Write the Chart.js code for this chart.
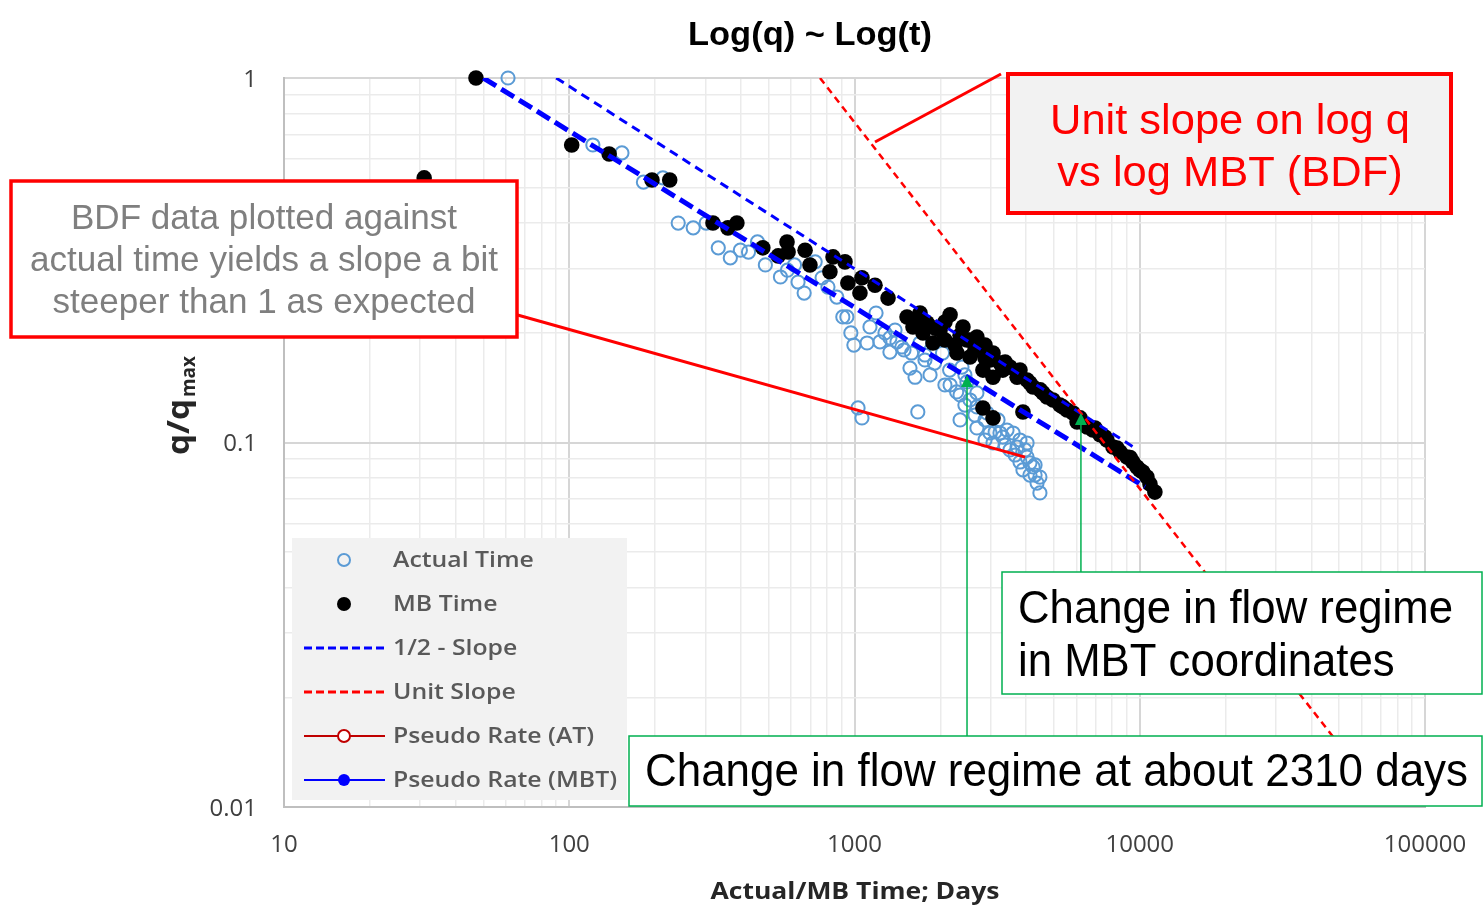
<!DOCTYPE html>
<html><head><meta charset="utf-8">
<script src="https://cdn.jsdelivr.net/npm/chart.js@4.4.1/dist/chart.umd.min.js"></script>
<style>html,body{margin:0;padding:0;background:#fff}#wrap{width:1484px;height:923px}</style>
</head><body><div id="wrap"><canvas id="c" width="1484" height="923"></canvas></div>
<script>
const chartTitle = 'Log(q) ~ Log(t)';
const xAxisTitle = 'Actual/MB Time; Days';
const yAxisTitleMain = 'q/q';
const yAxisTitleSub = 'max';
const xTickLabels = ['10', '100', '1000', '10000', '100000'];
const yTickLabels = ['0.01', '0.1', '1'];
const seriesLabels = ['Actual Time', 'MB Time', '1/2 - Slope', 'Unit Slope', 'Pseudo Rate (AT)', 'Pseudo Rate (MBT)'];

// Actual time (open blue circles)
const actualTimeX = [61, 121, 153, 182, 213, 241, 272, 302, 333, 367, 398, 425, 457, 487, 550, 582, 616, 634, 666, 728,
  770, 807, 867, 910, 940, 971, 995, 1107, 1133, 1190, 1228, 1279, 1331, 1409, 1466, 1565, 1630, 1585, 1697, 1908,
  2035, 2155, 2281, 2381, 2478, 2540, 2686, 2686, 2686, 2914, 2985, 3185, 3236, 3425, 3597, 3715, 3803, 4027, 4227, 4467,
  4365, 4467, 4027, 4121, 1029, 1062, 1667, 3311, 3508, 3895, 4295, 3059, 2868, 2438, 2075, 2345, 1840, 1766, 1387,
  3372, 3655, 3963, 4121, 4295, 3803, 3112, 2868, 2644, 2345, 2163, 2438, 1331, 1491, 1766];
const actualTimeY = [1.0, 0.655, 0.623, 0.518, 0.532, 0.400, 0.388, 0.400, 0.342, 0.321, 0.337, 0.333, 0.355, 0.307, 0.2845, 0.297, 0.307, 0.2756, 0.257, 0.313,
  0.283, 0.267, 0.2506, 0.221, 0.221, 0.1998, 0.185, 0.1875, 0.2075, 0.2266, 0.1888, 0.1998, 0.177, 0.1888, 0.1828, 0.160, 0.151, 0.176, 0.1875, 0.1652,
  0.176, 0.158, 0.1376, 0.161, 0.1466, 0.1308, 0.1368, 0.1252, 0.1096, 0.1205, 0.1062, 0.1153, 0.1062, 0.1082, 0.1062, 0.0972, 0.1016, 0.0912, 0.0857, 0.0804,
  0.0774, 0.0727, 0.0997, 0.0879, 0.1244, 0.1168, 0.1213, 0.1035, 0.0954, 0.0841, 0.0814, 0.0997, 0.1153, 0.1267, 0.1438, 0.1153, 0.1532, 0.1684, 0.2035,
  0.0984, 0.0924, 0.0954, 0.0814, 0.0868, 0.0884, 0.1069, 0.1016, 0.1189, 0.135, 0.1438, 0.1532, 0.1936, 0.1794, 0.1738];

// Material balance time (filled black circles)
const mbTimeX = [47.1, 31.0, 102, 138, 195, 225, 319, 360, 387, 477, 540, 580, 585, 671, 698, 841, 820, 926, 948, 1062,
  1045, 1180, 1311, 1528, 1697, 1795, 2163, 1738, 1884, 2400, 2478, 2686, 2753, 3059, 3236, 3508, 3803, 4027, 4227, 4581,
  4966, 5383, 5835, 2820, 3059, 2820, 3059, 3895, 6030, 6535, 7258, 8058, 9020, 9777, 10600, 11300, 2286, 2540, 3311, 3715,
  4732, 5250, 6850, 7674, 8534, 9456, 10250, 10860, 1995, 1603, 2075, 2250, 2868, 2985, 2345,
  1630, 1914, 2075, 2540, 2644, 3373, 4480, 5560, 6180, 6970, 7550, 8318, 9250, 10000, 2868, 4121];
const mbTimeY = [1.0, 0.532, 0.655, 0.619, 0.525, 0.525, 0.400, 0.388, 0.400, 0.342, 0.325, 0.355, 0.333, 0.337, 0.307, 0.323, 0.294, 0.313, 0.274, 0.283,
  0.257, 0.270, 0.249, 0.221, 0.2266, 0.213, 0.224, 0.1998, 0.1875, 0.2075, 0.191, 0.1948, 0.1794, 0.176, 0.1652, 0.161, 0.158, 0.1484, 0.142, 0.1368,
  0.1308, 0.1252, 0.1205, 0.158, 0.151, 0.1244, 0.1168, 0.1213, 0.1138, 0.1103, 0.105, 0.0972, 0.0912, 0.0857, 0.0804, 0.0731, 0.176, 0.1716, 0.158, 0.151,
  0.1333, 0.1267, 0.1082, 0.1016, 0.0942, 0.0884, 0.083, 0.0769, 0.2035, 0.2075, 0.191, 0.185, 0.185, 0.1684, 0.197,
  0.213, 0.206, 0.214, 0.191, 0.1794, 0.1663, 0.1394, 0.1228, 0.1168, 0.1096, 0.1035, 0.0966, 0.0909, 0.0841, 0.1706, 0.1456];

const halfSlopeUpperX = [90, 9620];
const halfSlopeUpperY = [1.0, 0.0966];
const halfSlopeLowerX = [50, 10430];
const halfSlopeLowerY = [1.0, 0.0755];
const unitSlopeX = [757, 74000];
const unitSlopeY = [1.0, 0.01];
const pseudoRateATX = [];
const pseudoRateATY = [];
const pseudoRateMBTX = [];
const pseudoRateMBTY = [];

// annotations
const noteLeftLines = ['BDF data plotted against', 'actual time yields a slope a bit', 'steeper than 1 as expected'];
const noteRightLines = ['Unit slope on log q', 'vs log MBT (BDF)'];
const noteMBTLines = ['Change in flow regime', 'in MBT coordinates'];
const noteActualLine = 'Change in flow regime at about 2310 days';
const leftPointerTarget = [3963, 0.0912];
const rightPointerTarget = [1180, 0.6675];
const arrowActual = [2480, 0.1532];
const arrowMBT = [6220, 0.1205];

const pts = (xs, ys) => xs.map((x, i) => ({x: x, y: ys[i]}));

function gridValues(e0, e1) {
  const v = [];
  for (let e = e0; e < e1; e++) for (let m = 1; m < 10; m++) v.push(+(m * Math.pow(10, e)).toPrecision(6));
  v.push(+Math.pow(10, e1).toPrecision(6));
  return v;
}
function findLabel(labels, value) {
  const l = labels.find(s => Math.abs(Number(s) - value) < Math.abs(value) * 1e-6);
  return l === undefined ? '' : l;
}

function fitText(ctx, text, x, y, font, scale, align) {
  ctx.save();
  ctx.font = font;
  ctx.textAlign = align || 'left';
  ctx.translate(x, y);
  ctx.scale(scale, 1);
  ctx.fillText(text, 0, 0);
  ctx.restore();
}
function scaleFor(ctx, text, font, target) {
  ctx.save(); ctx.font = font; const w = ctx.measureText(text).width; ctx.restore();
  return target / w;
}

const bgPlugin = {
  id: 'bg',
  beforeDraw(chart) {
    const c = chart.ctx; c.save(); c.fillStyle = '#fff'; c.fillRect(0, 0, chart.width, chart.height); c.restore();
  }
};

const decorPlugin = {
  id: 'decor',
  afterDraw(chart) {
    const c = chart.ctx;
    const xs = chart.scales.x, ys = chart.scales.y;
    const px = v => xs.getPixelForValue(v), py = v => ys.getPixelForValue(v);
    c.save();
    c.textBaseline = 'middle';

    // chart title
    c.fillStyle = '#000';
    let f = 'bold 33px "Liberation Sans", Arial, sans-serif';
    fitText(c, chartTitle, 810, 36, f, scaleFor(c, chartTitle, f, 244), 'center');

    // x axis title
    c.fillStyle = '#262626';
    f = 'bold 24px "Open Sans", sans-serif';
    fitText(c, xAxisTitle, 855, 892, f, scaleFor(c, xAxisTitle, f, 289), 'center');

    // y axis title with subscript
    c.save();
    c.translate(189, 455);
    c.rotate(-Math.PI / 2);
    c.textBaseline = 'alphabetic';
    f = 'bold 30px "Open Sans", sans-serif';
    fitText(c, yAxisTitleMain, 0, 0, f, scaleFor(c, yAxisTitleMain, f, 56), 'left');
    const fs = 'bold 20px "Open Sans", sans-serif';
    fitText(c, yAxisTitleSub, 58, 6, fs, scaleFor(c, yAxisTitleSub, fs, 41), 'left');
    c.restore();

    // legend
    c.fillStyle = '#f2f2f2';
    c.fillRect(292, 538, 335, 262);
    const lf = '600 22px "Open Sans", sans-serif';
    const ls = scaleFor(c, 'Pseudo Rate (MBT)', lf, 224);
    const legendSets = chart.data.datasets.filter(d => d.inLegend);
    legendSets.forEach((d, i) => {
      const y = 560 + i * 44;
      c.save();
      if (d.legendKind === 'line' || d.legendKind === 'lineMarker') {
        c.strokeStyle = d.borderColor;
        c.lineWidth = d.legendKind === 'line' ? 3 : 2;
        c.setLineDash(d.legendKind === 'line' ? [8, 4] : []);
        c.beginPath(); c.moveTo(304, y); c.lineTo(385, y); c.stroke();
        c.setLineDash([]);
      }
      if (d.legendKind === 'marker' || d.legendKind === 'lineMarker') {
        c.beginPath(); c.arc(344, y, d.legendRadius, 0, Math.PI * 2);
        if (d.legendFill) { c.fillStyle = d.legendFill; c.fill(); }
        if (d.legendStroke) { c.strokeStyle = d.legendStroke; c.lineWidth = 2; c.stroke(); }
      }
      c.restore();
      c.fillStyle = '#595959';
      fitText(c, d.label, 393, y + 1, lf, ls, 'left');
    });

    // left note + pointer
    c.strokeStyle = '#ff0000';
    c.lineWidth = 3;
    c.beginPath(); c.moveTo(514, 314); c.lineTo(px(leftPointerTarget[0]), py(leftPointerTarget[1])); c.stroke();
    c.fillStyle = '#fff';
    c.fillRect(11, 181, 506, 156);
    c.lineWidth = 3.5;
    c.strokeRect(11, 181, 506, 156);
    c.fillStyle = '#7f7f7f';
    f = '35px "Liberation Sans", Arial, sans-serif';
    let s = scaleFor(c, noteLeftLines[1], f, 468);
    noteLeftLines.forEach((t, i) => fitText(c, t, 264, 219 + i * 42, f, s, 'center'));

    // right note + pointer
    c.lineWidth = 3;
    c.beginPath(); c.moveTo(1001, 74); c.lineTo(px(rightPointerTarget[0]), py(rightPointerTarget[1])); c.stroke();
    c.fillStyle = '#f2f2f2';
    c.fillRect(1008, 74, 443, 139);
    c.lineWidth = 4;
    c.strokeRect(1008, 74, 443, 139);
    c.fillStyle = '#ff0000';
    f = '43px "Liberation Sans", Arial, sans-serif';
    s = scaleFor(c, noteRightLines[0], f, 360);
    noteRightLines.forEach((t, i) => fitText(c, t, 1230, 122 + i * 52, f, s, 'center'));

    // green arrows
    const green = '#00b050';
    function arrow(xv, yv, yStart) {
      const x = px(xv), y = py(yv);
      c.strokeStyle = green; c.fillStyle = green; c.lineWidth = 1.5;
      c.beginPath(); c.moveTo(x, yStart); c.lineTo(x, y + 10); c.stroke();
      c.beginPath(); c.moveTo(x, y); c.lineTo(x - 6, y + 12); c.lineTo(x + 6, y + 12); c.closePath(); c.fill();
    }
    arrow(arrowActual[0], arrowActual[1], 736);
    arrow(arrowMBT[0], arrowMBT[1], 572);

    // green boxes
    c.fillStyle = '#fff';
    c.fillRect(1002, 572, 480, 122);
    c.strokeStyle = green; c.lineWidth = 1.5;
    c.strokeRect(1002, 572, 480, 122);
    c.fillStyle = '#000';
    f = '46px "Liberation Sans Narrow", "Liberation Sans", Arial, sans-serif';
    s = scaleFor(c, noteMBTLines[0], f, 435);
    noteMBTLines.forEach((t, i) => fitText(c, t, 1018, 610 + i * 53, f, s, 'left'));

    c.fillStyle = '#fff';
    c.fillRect(629, 736, 853, 70);
    c.strokeStyle = green;
    c.strokeRect(629, 736, 853, 70);
    c.fillStyle = '#000';
    s = scaleFor(c, noteActualLine, f, 823);
    fitText(c, noteActualLine, 645, 773, f, s, 'left');

    c.restore();
  }
};

const tickFont = {family: '"Open Sans", sans-serif', size: 24};
const gridColor = labels => ctx => (ctx.tick && findLabel(labels, ctx.tick.value) !== '') ? '#d6d6d6' : '#ebebeb';
const gridWidth = labels => ctx => (ctx.tick && findLabel(labels, ctx.tick.value) !== '') ? 2 : 1.5;
const noPad = sc => { sc.paddingLeft = 0; sc.paddingRight = 0; sc.paddingTop = 0; sc.paddingBottom = 0; };

new Chart(document.getElementById('c'), {
  type: 'scatter',
  data: {
    datasets: [
      {label: seriesLabels[0], data: pts(actualTimeX, actualTimeY), order: 4, clip: 10,
        pointRadius: 6.6, pointHoverRadius: 6.6, borderWidth: 2, borderColor: '#5b9bd5', backgroundColor: 'rgba(0,0,0,0)',
        inLegend: true, legendKind: 'marker', legendRadius: 6, legendStroke: '#5b9bd5'},
      {label: seriesLabels[1], data: pts(mbTimeX, mbTimeY), order: 3, clip: 10,
        pointRadius: 7.8, pointHoverRadius: 7.8, borderWidth: 0, borderColor: '#000', backgroundColor: '#000',
        inLegend: true, legendKind: 'marker', legendRadius: 7, legendFill: '#000'},
      {label: seriesLabels[2], data: pts(halfSlopeUpperX, halfSlopeUpperY), order: 1, showLine: true,
        pointRadius: 0, borderColor: '#0000ff', borderWidth: 3, borderDash: [9, 6],
        inLegend: true, legendKind: 'line'},
      {label: seriesLabels[3], data: pts(unitSlopeX, unitSlopeY), order: 0, showLine: true,
        pointRadius: 0, borderColor: '#ff0000', borderWidth: 2.5, borderDash: [7, 5],
        inLegend: true, legendKind: 'line'},
      {label: seriesLabels[4], data: pts(pseudoRateATX, pseudoRateATY), order: 5, showLine: true,
        borderColor: '#c00000', inLegend: true, legendKind: 'lineMarker', legendRadius: 6, legendFill: '#fff', legendStroke: '#c00000'},
      {label: seriesLabels[5], data: pts(pseudoRateMBTX, pseudoRateMBTY), order: 5, showLine: true,
        borderColor: '#0000ff', inLegend: true, legendKind: 'lineMarker', legendRadius: 6, legendFill: '#0000ff'},
      {label: seriesLabels[2], data: pts(halfSlopeLowerX, halfSlopeLowerY), order: 1, showLine: true,
        pointRadius: 0, borderColor: '#0000ff', borderWidth: 5, borderDash: [15, 6], inLegend: false}
    ]
  },
  options: {
    responsive: false,
    animation: false,
    events: [],
    layout: {padding: {top: 78, right: 59, bottom: 0, left: 0}},
    plugins: {legend: {display: false}, tooltip: {enabled: false}, title: {display: false}},
    scales: {
      x: {
        type: 'logarithmic', min: 10, max: 100000, position: 'bottom',
        afterBuildTicks: sc => { sc.ticks = gridValues(1, 5).map(v => ({value: v})); },
        afterFit: sc => { sc.height = 116; noPad(sc); },
        ticks: {autoSkip: false, maxRotation: 0, padding: 24, color: '#404040', font: tickFont,
          callback: v => findLabel(xTickLabels, v)},
        grid: {drawTicks: false, color: gridColor(xTickLabels), lineWidth: gridWidth(xTickLabels)},
        border: {display: true, color: '#bfbfbf', width: 2}
      },
      y: {
        type: 'logarithmic', min: 0.01, max: 1, position: 'left',
        afterBuildTicks: sc => { sc.ticks = gridValues(-2, 0).map(v => ({value: v})); },
        afterFit: sc => { sc.width = 284; noPad(sc); },
        ticks: {autoSkip: false, padding: 27, labelOffset: 2, color: '#404040', font: tickFont,
          callback: v => findLabel(yTickLabels, v)},
        grid: {drawTicks: false, color: gridColor(yTickLabels), lineWidth: gridWidth(yTickLabels)},
        border: {display: true, color: '#bfbfbf', width: 2}
      }
    }
  },
  plugins: [bgPlugin, decorPlugin]
});
</script>
</body></html>
